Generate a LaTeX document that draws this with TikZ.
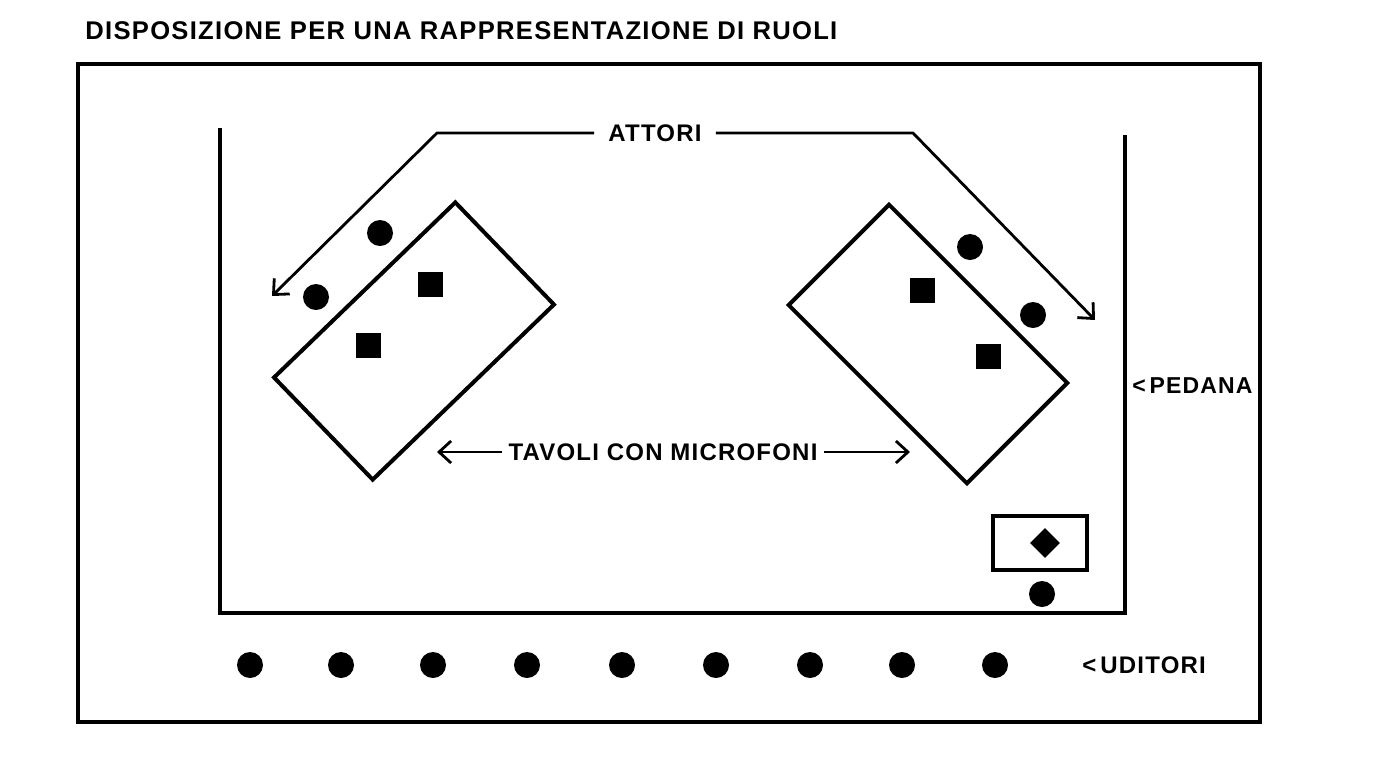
\documentclass[tikz,border=0pt]{standalone}
\usepackage{fontspec}
\setmainfont{Liberation Sans}[LetterSpace=5]
\usetikzlibrary{arrows.meta,shapes.geometric}

\begin{document}
\begin{tikzpicture}[
        x=0.5pt, y=-0.5pt,
        muro/.style={line width=2pt},
        tavolo/.style={draw, rectangle, line width=2pt, minimum width=126pt, minimum height=71pt, inner sep=0pt},
        attore/.style={fill, circle, minimum size=13pt, inner sep=0pt},
        microfono/.style={fill, rectangle, minimum size=12.5pt, inner sep=0pt},
        scritta/.style={font=\fontsize{12}{14}\selectfont\bfseries, inner sep=1pt},
        freccia/.style={line width=1.4pt, -{Straight Barb[length=6pt,width=11pt]}},
    ]
    \useasboundingbox (0,0) rectangle (1383,762);
    \node[scritta, anchor=west, font=\fontsize{12.8}{15}\selectfont\bfseries](titolo) at (83,31){DISPOSIZIONE PER UNA RAPPRESENTAZIONE DI RUOLI};
    \draw[muro] (78,64) rectangle (1260,722);
    \draw[muro] (220,128) -- (220,613) -- (1125,613) -- (1125,135);

    \node[tavolo, rotate=44](tsx) at (414,341){};
    \node[tavolo, rotate=-45](tdx) at (928,344){};
    \node[attore](a1) at (380,233){};
    \node[attore](a2) at (316,297){};
    \node[attore](a3) at (970,247){};
    \node[attore](a4) at (1033,315){};
    \node[microfono](m1) at (430,284){};
    \node[microfono](m2) at (368,345){};
    \node[microfono](m3) at (922,290){};
    \node[microfono](m4) at (988,356){};

    \node[scritta, inner xsep=7pt](attori) at (655,133){ATTORI};
    \coordinate (gsx) at (437,133);
    \coordinate (psx) at (272,296);
    \coordinate (gdx) at (913,133);
    \coordinate (pdx) at (1095,320);
    \draw[freccia] (attori.west) -- (gsx) -- (psx);
    \draw[freccia] (attori.east) -- (gdx) -- (pdx);

    \node[scritta, inner xsep=3pt](tavoli) at (663,452){TAVOLI CON MICROFONI};
    \coordinate (fsx) at (437,452);
    \coordinate (fdx) at (910,452);
    \draw[freccia] (tavoli.west) -- (fsx);
    \draw[freccia] (tavoli.east) -- (fdx);

    \node[draw, rectangle, line width=1.6pt, minimum width=47pt, minimum height=27pt](regia) at (1040,543){};
    \node[fill, diamond, minimum size=15pt, inner sep=0pt](capo) at (1045,543){};
    \node[attore](a5) at (1042,594){};

    \node[scritta, anchor=west, font=\fontsize{11.5}{14}\selectfont\bfseries](pedana) at (1130,386){<\,PEDANA};

    \node[attore](u1) at (250,665){};
    \node[attore](u2) at (341,665){};
    \node[attore](u3) at (433,665){};
    \node[attore](u4) at (527,665){};
    \node[attore](u5) at (622,665){};
    \node[attore](u6) at (716,665){};
    \node[attore](u7) at (810,665){};
    \node[attore](u8) at (902,665){};
    \node[attore](u9) at (995,665){};
    \node[scritta, anchor=west](uditori) at (1080,665){<\,UDITORI};
\end{tikzpicture}
\end{document}
